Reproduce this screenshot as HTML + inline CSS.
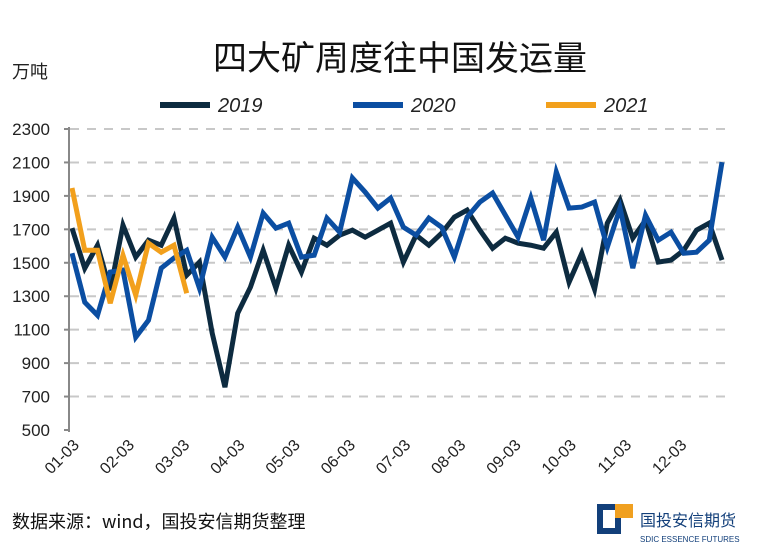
<!DOCTYPE html>
<html><head><meta charset="utf-8"><style>
body{margin:0;background:#fff;width:770px;height:548px;overflow:hidden;font-family:"Liberation Sans","Noto Sans CJK SC",sans-serif}
</style></head><body>
<svg width="770" height="548" viewBox="0 0 770 548" id="svg">
<text x="400" y="70" text-anchor="middle" font-size="34" font-family="'Noto Sans CJK SC',sans-serif" fill="#111">四大矿周度往中国发运量</text>
<text x="12" y="78" font-size="18" font-family="'Noto Sans CJK SC',sans-serif" fill="#222">万吨</text>
<g id="legend"></g>
<g id="grid"></g><g id="series"></g><g id="axes"></g>
<text x="12" y="528" font-size="18" font-family="'Noto Sans CJK SC',sans-serif" fill="#111">数据来源：wind，国投安信期货整理</text>
<g>
<rect x="597" y="504" width="24" height="30" fill="#123f7a"/><rect x="603" y="510" width="12" height="18" fill="#fff"/><rect x="615" y="504" width="18" height="14" fill="#f0a020"/>
<text x="640" y="526" font-size="16" font-family="'Noto Sans CJK SC',sans-serif" fill="#123f7a">国投安信期货</text>
<text x="640" y="542" font-size="8" fill="#123f7a">SDIC ESSENCE FUTURES</text>
</g>
</svg>
<script>
const yTicks=[500,700,900,1100,1300,1500,1700,1900,2100,2300];
const xLabels=["01-03","02-03","03-03","04-03","05-03","06-03","07-03","08-03","09-03","10-03","11-03","12-03"];
const seriesNames=["2019","2020","2021"];
const s2019=[1707,1467,1605,1336,1725,1534,1635,1605,1767,1426,1504,1079,756,1198,1354,1575,1348,1605,1444,1647,1605,1665,1695,1653,1695,1737,1504,1665,1605,1677,1773,1815,1695,1587,1647,1617,1605,1587,1683,1384,1557,1342,1737,1875,1647,1755,1504,1516,1575,1695,1737,1516];
const s2020=[1557,1264,1186,1444,1456,1055,1156,1468,1528,1575,1348,1653,1534,1713,1534,1797,1707,1737,1534,1545,1767,1683,2007,1923,1827,1887,1713,1665,1767,1713,1534,1773,1863,1917,1785,1653,1887,1635,2043,1827,1833,1863,1593,1827,1468,1785,1635,1683,1557,1563,1635,2102];
const s2021=[1947,1575,1575,1258,1545,1306,1617,1563,1605,1318];
const colors=["#0d2b40","#0b4ea2","#f2a01c"];
const NS="http://www.w3.org/2000/svg";
const X0=72,X1=722,Y0=430,Y1=129;
const xs=i=>X0+i*(X1-X0)/51;
const ys=v=>Y0-(v-500)/1800*(Y0-Y1);
function mk(t,a,p){const e=document.createElementNS(NS,t);for(const k in a)e.setAttribute(k,a[k]);document.getElementById(p).appendChild(e);return e;}
yTicks.forEach(v=>{
 if(v>500){const g=mk("line",{x1:70,x2:725,y1:ys(v),y2:ys(v),stroke:"#c8c8c8","stroke-width":2,"stroke-dasharray":"9 8"},"grid");
 
 }
 const tk=mk("line",{x1:64,x2:69,y1:ys(v),y2:ys(v),stroke:"#888","stroke-width":2},"axes");
 
 
 const t=mk("text",{x:50,y:ys(v)+6,"text-anchor":"end","font-size":17,fill:"#222"},"axes");t.textContent=v;
 
 
});
const ax=mk("line",{x1:69,x2:69,y1:Y1-2,y2:Y0+2,stroke:"#888","stroke-width":2},"axes");


xLabels.forEach((l,i)=>{const x=xs(i*52/12)+8;
 const t=mk("text",{x:x,y:446,"text-anchor":"end","font-size":16,fill:"#222",transform:`rotate(-45 ${x} 446)`},"axes");t.textContent=l;
 
 });
[s2019,s2020,s2021].forEach((s,k)=>{
 const p=mk("polyline",{points:s.map((v,i)=>xs(i)+","+ys(v)).join(" "),fill:"none",stroke:colors[k],"stroke-width":5,"stroke-linejoin":"miter"},"series");
 
 
});
seriesNames.forEach((n,k)=>{const x=160+k*193;
 const l=mk("line",{x1:x,x2:x+50,y1:105,y2:105,stroke:colors[k],"stroke-width":6},"legend");
 
 
 const t=mk("text",{x:x+58,y:112,"font-size":20,"font-style":"italic",fill:"#222"},"legend");t.textContent=n;
 
 });
</script>
</body></html>
